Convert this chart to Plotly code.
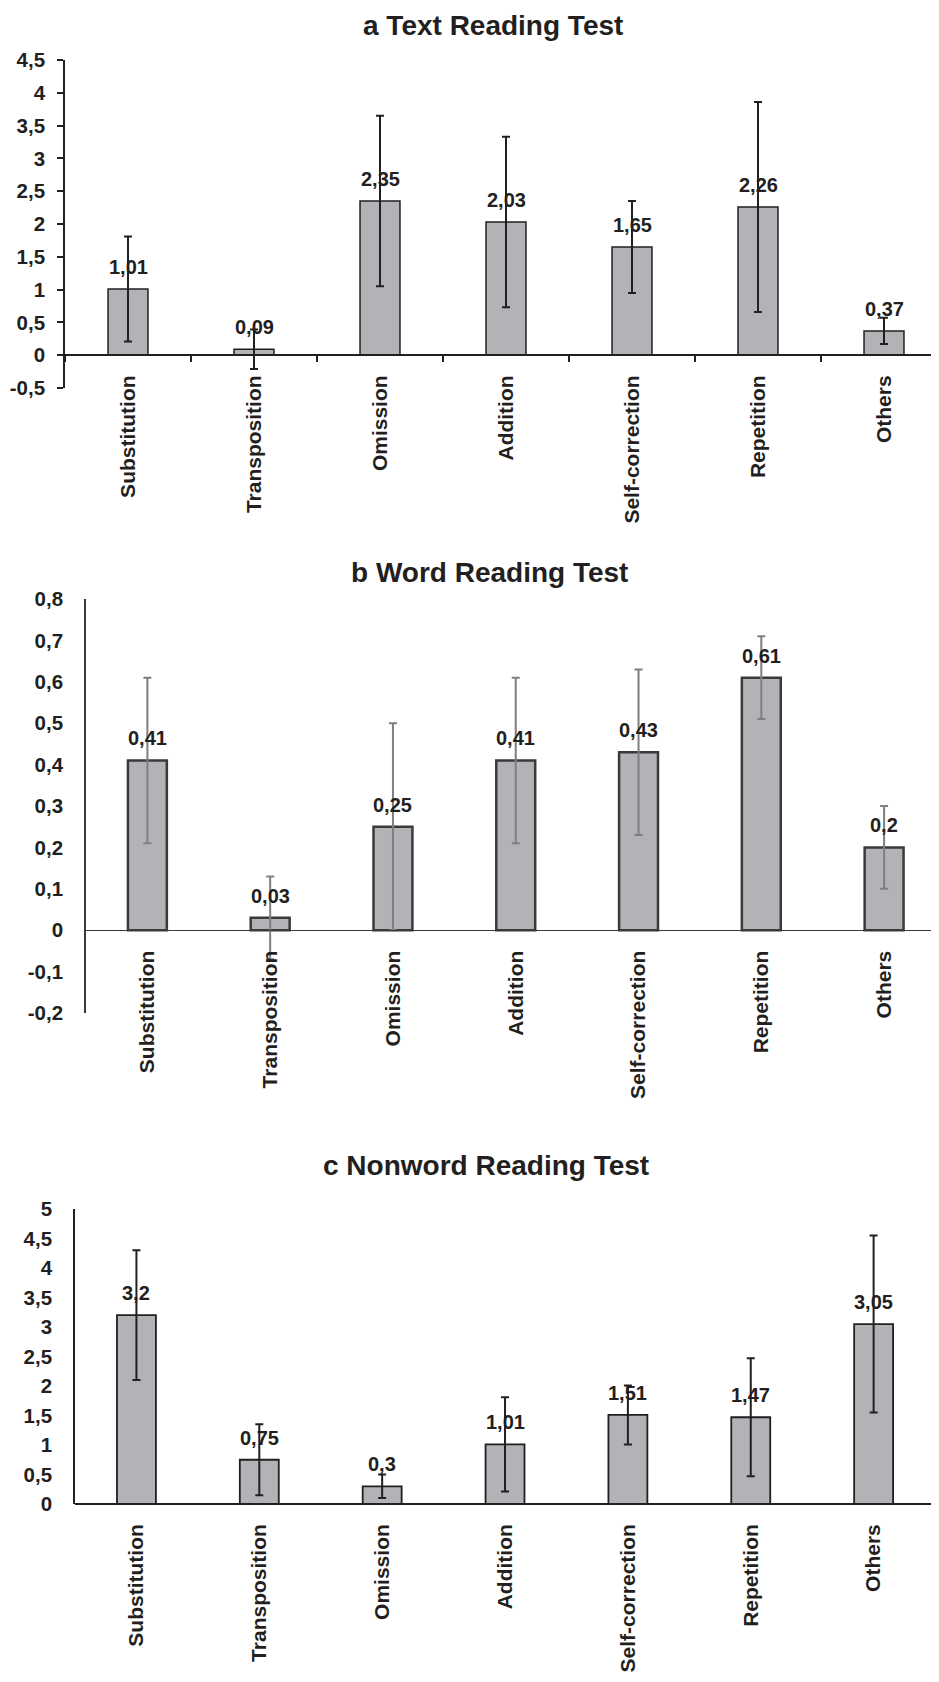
import plotly.graph_objects as go

categories = ["Substitution", "Transposition", "Omission", "Addition",
              "Self-correction", "Repetition", "Others"]

# a Text Reading Test
text_means = [1.01, 0.09, 2.35, 2.03, 1.65, 2.26, 0.37]
text_err = [0.80, 0.30, 1.30, 1.30, 0.70, 1.60, 0.20]
text_labels = ["1,01", "0,09", "2,35", "2,03", "1,65", "2,26", "0,37"]
text_ticks = [-0.5, 0, 0.5, 1, 1.5, 2, 2.5, 3, 3.5, 4, 4.5]
text_ticktext = ["-0,5", "0", "0,5", "1", "1,5", "2", "2,5", "3", "3,5", "4", "4,5"]

# b Word Reading Test
word_means = [0.41, 0.03, 0.25, 0.41, 0.43, 0.61, 0.20]
word_err = [0.20, 0.10, 0.25, 0.20, 0.20, 0.10, 0.10]
word_labels = ["0,41", "0,03", "0,25", "0,41", "0,43", "0,61", "0,2"]
word_ticks = [-0.2, -0.1, 0, 0.1, 0.2, 0.3, 0.4, 0.5, 0.6, 0.7, 0.8]
word_ticktext = ["-0,2", "-0,1", "0", "0,1", "0,2", "0,3", "0,4", "0,5", "0,6", "0,7", "0,8"]

# c Nonword Reading Test
nonword_means = [3.20, 0.75, 0.30, 1.01, 1.51, 1.47, 3.05]
nonword_err = [1.10, 0.60, 0.20, 0.80, 0.50, 1.00, 1.50]
nonword_labels = ["3,2", "0,75", "0,3", "1,01", "1,51", "1,47", "3,05"]
nonword_ticks = [0, 0.5, 1, 1.5, 2, 2.5, 3, 3.5, 4, 4.5, 5]
nonword_ticktext = ["0", "0,5", "1", "1,5", "2", "2,5", "3", "3,5", "4", "4,5", "5"]

titles = ["a Text Reading Test", "b Word Reading Test", "c Nonword Reading Test"]

# page body has an 8px margin, so the figure is sized to fit the window
OFF = 8
W, H = 939 - 2 * OFF, 1682 - 2 * OFF
TXT = "#231f20"
BAR = "#b2b3b6"
FONT = "Liberation Sans, Arial, sans-serif"

def px_x(X):
    return (X - OFF) / W

def px_y(Y):
    return 1 - (Y - OFF) / H

panels = [
    dict(means=text_means, err=text_err, labels=text_labels, ticks=text_ticks,
         ticktext=text_ticktext, yr=[-0.5, 4.5], ydom=[px_y(388), px_y(60)],
         xdom=[px_x(65), 1.0], xr=[-0.5, 6.373], line=TXT, lw=1.5, ew=TXT,
         axcol=TXT, ytick="outside", xtick="outside", title_xy=(493, None),
         axisw=1.6),
    dict(means=word_means, err=word_err, labels=word_labels, ticks=word_ticks,
         ticktext=word_ticktext, yr=[-0.2, 0.8], ydom=[px_y(1013), px_y(599)],
         xdom=[px_x(86), 1.0], xr=[-0.5, 6.382], line="#3a3a3a", lw=2.5, ew="#7f7f7f",
         axcol="#3a3a3a", ytick="", xtick="", title_xy=(489, 572), axisw=1.2),
    dict(means=nonword_means, err=nonword_err, labels=nonword_labels, ticks=nonword_ticks,
         ticktext=nonword_ticktext, yr=[0, 5], ydom=[px_y(1504), px_y(1209)],
         xdom=[px_x(75), 1.0], xr=[-0.5, 6.467], line=TXT, lw=1.8, ew=TXT,
         axcol=TXT, ytick="", xtick="", title_xy=(486, 1165), axisw=1.6),
]

fig = go.Figure()
layout = dict(width=W, height=H, margin=dict(l=0, r=0, t=0, b=0, autoexpand=False),
              paper_bgcolor="white", plot_bgcolor="white", showlegend=False,
              font=dict(family=FONT, color=TXT, size=20, weight="bold"))
annotations = []

for i, p in enumerate(panels, start=1):
    xa = "x" if i == 1 else f"x{i}"
    ya = "y" if i == 1 else f"y{i}"
    fig.add_trace(go.Bar(
        x=categories, y=p["means"], xaxis=xa, yaxis=ya, width=0.317,
        marker=dict(color=BAR, line=dict(color=p["line"], width=p["lw"])),
        error_y=dict(type="data", array=p["err"], visible=True,
                     color=p["ew"], thickness=2, width=4),
        hoverinfo="skip"))
    for c, v, lab in zip(categories, p["means"], p["labels"]):
        annotations.append(dict(x=c, y=v, xref=xa, yref=ya, text=lab,
                                showarrow=False, yanchor="bottom", yshift=9,
                                font=dict(size=20, color=TXT, family=FONT, weight="bold")))
    d0, d1 = p["ydom"]
    zero_pos = d0 + (0 - p["yr"][0]) / (p["yr"][1] - p["yr"][0]) * (d1 - d0)
    layout["xaxis" if i == 1 else f"xaxis{i}"] = dict(
        domain=p["xdom"], range=p["xr"], anchor="free", position=zero_pos,
        type="category", showline=True, linecolor=p["axcol"], automargin=False,
        linewidth=p["axisw"], ticks=p["xtick"], tickson="boundaries", ticklen=6,
        tickcolor=TXT, tickwidth=1.5, tickangle=-90, showgrid=False, zeroline=False,
        ticklabelstandoff=11,
        tickfont=dict(size=21, color=TXT, family=FONT, weight="bold"),
        fixedrange=True)
    layout["yaxis" if i == 1 else f"yaxis{i}"] = dict(
        domain=p["ydom"], range=p["yr"], anchor=xa, showline=True, automargin=False,
        linecolor=p["axcol"], linewidth=1.6,
        tickvals=p["ticks"], ticktext=p["ticktext"], ticks=p["ytick"], ticklen=6,
        tickcolor=TXT, tickwidth=1.5, showgrid=False, zeroline=False,
        ticklabelstandoff=17 if p["ytick"] == "" else 8,
        tickfont=dict(size=20.5, color=TXT, family=FONT, weight="bold"),
        fixedrange=True)
    tx, ty = p["title_xy"]
    if ty is None:
        ann_y, ann_anchor = 1.0, "top"
    else:
        ann_y, ann_anchor = px_y(ty), "middle"
    annotations.append(dict(x=px_x(tx), y=ann_y, xref="paper", yref="paper",
                            text=titles[i - 1], showarrow=False, xanchor="center",
                            yanchor=ann_anchor,
                            font=dict(size=28, color=TXT, family=FONT, weight="bold")))

layout["annotations"] = annotations
fig.update_layout(**layout)
fig.write_html("out.html")
